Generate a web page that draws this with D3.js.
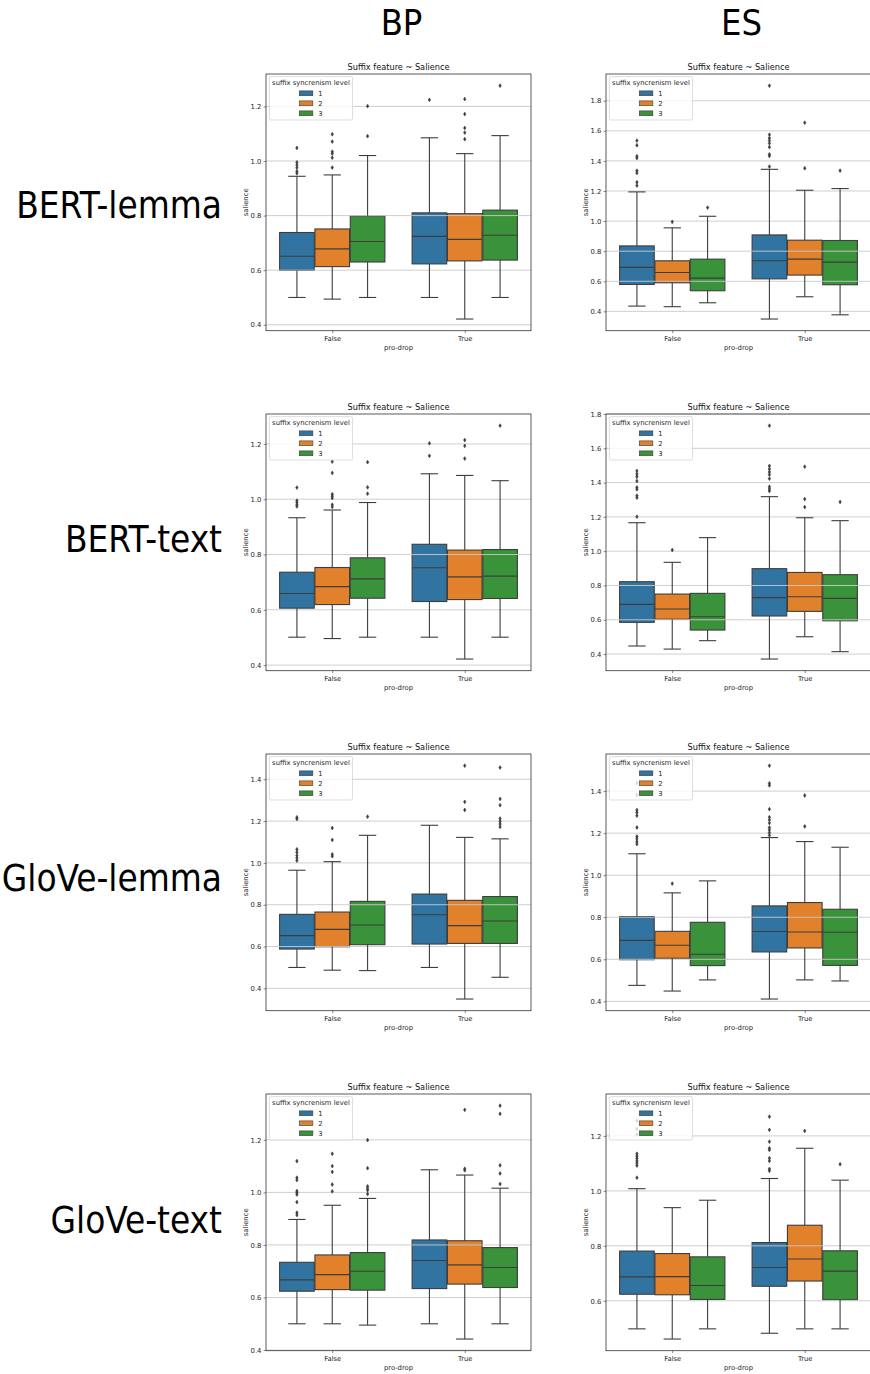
<!DOCTYPE html>
<html>
<head>
<meta charset="utf-8">
<script src="https://cdn.jsdelivr.net/npm/d3@7"></script>
<style>
  body { margin: 0; background: #fff; }
  svg { display: block; }
</style>
</head>
<body>
<div id="chart"></div>
<script>
// row / column headers of the composite figure
const rowNames = ['BERT-lemma', 'BERT-text', 'GloVe-lemma', 'GloVe-text']
const colNames = ['BP', 'ES']
const categories = ['False', 'True']
const levels = ['1', '2', '3']
const yTickStep = 0.2

// box stats: [whiskerLow, q1, median, q3, whiskerHigh]
// order: False-1, False-2, False-3, True-1, True-2, True-3
const bpBertLemma = [
  [0.500, 0.599, 0.651, 0.738, 0.944], [0.494, 0.613, 0.678, 0.751, 0.949], [0.500, 0.630, 0.705, 0.799, 1.020],
  [0.500, 0.623, 0.724, 0.810, 1.085], [0.421, 0.634, 0.713, 0.807, 1.027], [0.500, 0.637, 0.728, 0.820, 1.093]
]
const bpBertLemmaFliers = [
  [1.048, 0.995, 0.985, 0.975, 0.962, 0.955], [1.098, 1.071, 1.034, 1.027, 1.012, 0.976], [1.201, 1.091],
  [1.224], [1.227, 1.172, 1.121, 1.104, 1.080], [1.276]
]
const esBertLemma = [
  [0.435, 0.579, 0.692, 0.835, 1.194], [0.431, 0.590, 0.658, 0.736, 0.955], [0.457, 0.537, 0.621, 0.747, 1.032],
  [0.349, 0.616, 0.736, 0.908, 1.344], [0.497, 0.641, 0.747, 0.873, 1.205], [0.377, 0.577, 0.727, 0.871, 1.216]
]
const esBertLemmaFliers = [
  [1.535, 1.504, 1.431, 1.419, 1.335, 1.320, 1.258, 1.236], [0.995], [1.090],
  [1.900, 1.574, 1.552, 1.535, 1.517, 1.492, 1.444, 1.433, 1.362], [1.654, 1.351], [1.335]
]
const bpBertText = [
  [0.501, 0.606, 0.659, 0.736, 0.933], [0.496, 0.619, 0.684, 0.753, 0.961], [0.501, 0.642, 0.712, 0.788, 0.988],
  [0.501, 0.630, 0.752, 0.837, 1.092], [0.422, 0.637, 0.719, 0.816, 1.086], [0.501, 0.641, 0.722, 0.818, 1.067]
]
const bpBertTextFliers = [
  [1.042, 0.995, 0.988, 0.980, 0.974], [1.136, 1.095, 1.018, 1.011, 1.004, 0.980, 0.972], [1.134, 1.043, 1.020],
  [1.202, 1.157], [1.214, 1.193, 1.147], [1.266]
]
const esBertText = [
  [0.447, 0.585, 0.690, 0.822, 1.166], [0.429, 0.603, 0.663, 0.750, 0.935], [0.478, 0.540, 0.618, 0.754, 1.079],
  [0.371, 0.622, 0.729, 0.898, 1.318], [0.501, 0.649, 0.734, 0.876, 1.195], [0.414, 0.594, 0.725, 0.863, 1.178]
]
const esBertTextFliers = [
  [1.468, 1.450, 1.434, 1.409, 1.372, 1.361, 1.324, 1.312, 1.201], [1.007], [],
  [1.732, 1.497, 1.479, 1.462, 1.446, 1.423, 1.376, 1.363, 1.351], [1.493, 1.304, 1.257], [1.287]
]
const bpGloveLemma = [
  [0.500, 0.588, 0.652, 0.754, 0.965], [0.487, 0.599, 0.682, 0.765, 1.006], [0.485, 0.609, 0.703, 0.816, 1.132],
  [0.500, 0.612, 0.752, 0.851, 1.180], [0.349, 0.615, 0.700, 0.821, 1.122], [0.453, 0.615, 0.722, 0.839, 1.115]
]
const bpGloveLemmaFliers = [
  [1.218, 1.210, 1.065, 1.051, 1.036, 1.024, 1.011], [1.167, 1.110, 1.041, 1.032], [1.221],
  [], [1.465, 1.292, 1.253], [1.456, 1.306, 1.276, 1.212, 1.199, 1.186, 1.172]
]
const esGloveLemma = [
  [0.476, 0.598, 0.690, 0.803, 1.102], [0.449, 0.605, 0.667, 0.733, 0.916], [0.502, 0.570, 0.624, 0.776, 0.973],
  [0.411, 0.635, 0.732, 0.854, 1.179], [0.502, 0.654, 0.730, 0.870, 1.160], [0.497, 0.571, 0.729, 0.838, 1.133]
]
const esGloveLemmaFliers = [
  [1.438, 1.381, 1.310, 1.298, 1.283, 1.227, 1.184, 1.173, 1.159, 1.148], [0.960], [],
  [1.521, 1.437, 1.427, 1.314, 1.276, 1.263, 1.248, 1.227, 1.216, 1.203, 1.190], [1.379, 1.232], []
]
const bpGloveText = [
  [0.500, 0.624, 0.667, 0.734, 0.897], [0.500, 0.630, 0.687, 0.762, 0.951], [0.495, 0.628, 0.700, 0.771, 0.977],
  [0.500, 0.634, 0.741, 0.819, 1.086], [0.442, 0.651, 0.724, 0.816, 1.066], [0.500, 0.638, 0.714, 0.790, 1.016]
]
const bpGloveTextFliers = [
  [1.119, 1.056, 1.047, 1.005, 0.999, 0.992, 0.963, 0.923, 0.914], [1.147, 1.100, 1.078, 1.030, 1.004],
  [1.199, 1.092, 1.023, 1.015, 1.008, 0.994],
  [], [1.314, 1.090, 1.084], [1.330, 1.299, 1.103, 1.072, 1.032]
]
const esGloveText = [
  [0.498, 0.624, 0.687, 0.781, 1.008], [0.461, 0.622, 0.688, 0.772, 0.939], [0.498, 0.605, 0.656, 0.760, 0.966],
  [0.482, 0.653, 0.721, 0.812, 1.045], [0.498, 0.672, 0.752, 0.875, 1.155], [0.498, 0.604, 0.708, 0.782, 1.039]
]
const esGloveTextFliers = [
  [1.310, 1.255, 1.225, 1.205, 1.135, 1.126, 1.118, 1.109, 1.101, 1.092, 1.048], [], [],
  [1.270, 1.222, 1.179, 1.155, 1.149, 1.119, 1.109, 1.080, 1.073], [1.218], [1.097]
]

const panels = [
  [bpBertLemma, bpBertLemmaFliers, esBertLemma, esBertLemmaFliers],
  [bpBertText, bpBertTextFliers, esBertText, esBertTextFliers],
  [bpGloveLemma, bpGloveLemmaFliers, esGloveLemma, esGloveLemmaFliers],
  [bpGloveText, bpGloveTextFliers, esGloveText, esGloveTextFliers]
]

const hueColors = ['#3274a1', '#e1812c', '#3a923a']
const gray = '#3d3d3d'
const width = 870
const height = 1374
const colX = [266, 606]
const rowY = [74, 414, 754, 1094]
const rowLabelY = [218, 552, 891, 1233]
const panelW = 265
const panelH = 256.7
const smallFont = 6.8
const titleFont = 8.2
const mplFont = 'DejaVu Sans, sans-serif'
const headFont = '"DejaVu Sans Condensed", "DejaVu Sans", sans-serif'

const svg = d3.select('#chart')
  .append('svg')
  .attr('width', width)
  .attr('height', height)
  .style('background', '#fff')

// column headers
svg.selectAll('text.colhead')
  .data(colNames)
  .join('text')
  .classed('colhead', true)
  .attr('x', (d, i) => colX[i] + panelW / 2 + 3)
  .attr('y', 35)
  .attr('text-anchor', 'middle')
  .style('font-family', headFont)
  .style('font-stretch', 'condensed')
  .style('font-size', '36px')
  .text(d => d)

// row labels
svg.selectAll('text.rowhead')
  .data(rowNames)
  .join('text')
  .classed('rowhead', true)
  .attr('x', 222)
  .attr('y', (d, i) => rowLabelY[i])
  .attr('text-anchor', 'end')
  .style('font-family', headFont)
  .style('font-stretch', 'condensed')
  .style('font-size', '36.6px')
  .text(d => d)

function drawPanel(x0, y0, stats, fliers) {
  const g = svg.append('g')

  const all = stats.flat().concat(fliers.flat())
  const lo = d3.min(all)
  const hi = d3.max(all)
  const pad = (hi - lo) * 0.05

  const x = d3.scaleLinear()
    .domain([-0.5, categories.length - 0.5])
    .range([x0, x0 + panelW])
  const y = d3.scaleLinear()
    .domain([lo - pad, hi + pad])
    .range([y0 + panelH, y0])

  const groupW = 0.8
  const eachW = groupW / levels.length
  const boxW = eachW * 0.98
  const center = i => Math.floor(i / levels.length) + (i % levels.length - (levels.length - 1) / 2) * eachW

  const boxes = stats.map((s, i) => ({ s, i, f: fliers[i] }))

  // boxes (patches sit below the grid, like matplotlib)
  g.append('g')
    .selectAll('rect')
    .data(boxes)
    .join('rect')
    .attr('x', d => x(center(d.i) - boxW / 2))
    .attr('width', d => x(boxW) - x(0))
    .attr('y', d => y(d.s[3]))
    .attr('height', d => y(d.s[1]) - y(d.s[3]))
    .attr('fill', d => hueColors[d.i % levels.length])
    .attr('stroke', gray)
    .attr('stroke-width', 1.1)

  // grid
  const kLo = Math.ceil((lo - pad) / yTickStep - 1e-6)
  const kHi = Math.floor((hi + pad) / yTickStep + 1e-6)
  const ticks = d3.range(kLo, kHi + 1).map(k => k * yTickStep)

  g.append('g')
    .selectAll('line')
    .data(ticks)
    .join('line')
    .attr('x1', x0)
    .attr('x2', x0 + panelW)
    .attr('y1', d => y(d))
    .attr('y2', d => y(d))
    .attr('stroke', '#c9c9c9')
    .attr('stroke-width', 0.9)

  // whiskers, caps, medians
  const lines = g.append('g')
    .attr('stroke', gray)
    .attr('stroke-width', 1.1)
  boxes.forEach(d => {
    const cx = x(center(d.i))
    const capHalf = (x(boxW) - x(0)) / 4
    const halfW = (x(boxW) - x(0)) / 2
    lines.append('line').attr('x1', cx).attr('x2', cx).attr('y1', y(d.s[1])).attr('y2', y(d.s[0]))
    lines.append('line').attr('x1', cx).attr('x2', cx).attr('y1', y(d.s[3])).attr('y2', y(d.s[4]))
    lines.append('line').attr('x1', cx - capHalf).attr('x2', cx + capHalf).attr('y1', y(d.s[0])).attr('y2', y(d.s[0]))
    lines.append('line').attr('x1', cx - capHalf).attr('x2', cx + capHalf).attr('y1', y(d.s[4])).attr('y2', y(d.s[4]))
    lines.append('line').attr('x1', cx - halfW).attr('x2', cx + halfW).attr('y1', y(d.s[2])).attr('y2', y(d.s[2]))
  })

  // fliers: thin diamonds
  const diamond = 'M0,-1.9L1.2,0L0,1.9L-1.2,0Z'
  const pts = boxes.flatMap(d => d.f.map(v => ({ cx: x(center(d.i)), v })))
  g.append('g')
    .selectAll('path')
    .data(pts)
    .join('path')
    .attr('d', diamond)
    .attr('transform', d => `translate(${d.cx},${y(d.v)})`)
    .attr('fill', gray)
    .attr('stroke', gray)
    .attr('stroke-width', 0.6)

  // spines
  g.append('rect')
    .attr('x', x0)
    .attr('y', y0)
    .attr('width', panelW)
    .attr('height', panelH)
    .attr('fill', 'none')
    .attr('stroke', '#333')
    .attr('stroke-width', 0.8)

  // y axis
  const yAxis = g.append('g')
    .attr('transform', `translate(${x0},0)`)
    .call(d3.axisLeft(y).tickValues(ticks).tickFormat(d3.format('.1f')).tickSize(2.4).tickPadding(2.2))
  yAxis.select('.domain').remove()
  yAxis.selectAll('line').attr('stroke', '#333').attr('stroke-width', 0.6)
  yAxis.selectAll('text')
    .style('font-family', mplFont)
    .style('font-size', smallFont + 'px')
    .attr('fill', '#262626')

  // x axis
  const xAxis = g.append('g')
    .attr('transform', `translate(0,${y0 + panelH})`)
    .call(d3.axisBottom(x).tickValues(d3.range(categories.length)).tickFormat(i => categories[i]).tickSize(2.4).tickPadding(2.6))
  xAxis.select('.domain').remove()
  xAxis.selectAll('line').attr('stroke', '#333').attr('stroke-width', 0.6)
  xAxis.selectAll('text')
    .style('font-family', mplFont)
    .style('font-size', smallFont + 'px')
    .attr('fill', '#262626')

  // labels and title
  g.append('text')
    .attr('x', x0 + panelW / 2)
    .attr('y', y0 + panelH + 19)
    .attr('text-anchor', 'middle')
    .style('font-family', mplFont)
    .style('font-size', smallFont + 'px')
    .attr('fill', '#262626')
    .text('pro-drop')

  g.append('text')
    .attr('transform', `translate(${x0 - 18.5},${y0 + panelH / 2}) rotate(-90)`)
    .attr('text-anchor', 'middle')
    .style('font-family', mplFont)
    .style('font-size', smallFont + 'px')
    .attr('fill', '#262626')
    .text('salience')

  g.append('text')
    .attr('x', x0 + panelW / 2)
    .attr('y', y0 - 4.3)
    .attr('text-anchor', 'middle')
    .style('font-family', mplFont)
    .style('font-size', titleFont + 'px')
    .attr('fill', '#111')
    .text('Suffix feature ~ Salience')

  // legend
  const leg = g.append('g').attr('transform', `translate(${x0 + 3.4},${y0 + 2.6})`)
  const frame = leg.append('rect')
    .attr('rx', 1.5)
    .attr('fill', '#fff')
    .attr('fill-opacity', 0.8)
    .attr('stroke', '#d0d0d0')
    .attr('stroke-width', 0.7)
  const title = leg.append('text')
    .attr('y', 8.6)
    .attr('text-anchor', 'middle')
    .style('font-family', mplFont)
    .style('font-size', smallFont + 'px')
    .attr('fill', '#262626')
    .text('suffix syncrenism level')
  const tw = title.node().getComputedTextLength()
  const legW = tw + 5.4
  frame.attr('width', legW).attr('height', 43.4)
  title.attr('x', legW / 2)

  const entry = leg.selectAll('g.entry')
    .data(levels)
    .join('g')
    .classed('entry', true)
    .attr('transform', (d, i) => `translate(${legW / 2 - 11.7},${16.7 + i * 10})`)
  entry.append('rect')
    .attr('width', 13.6)
    .attr('height', 4.8)
    .attr('y', -2.4)
    .attr('fill', (d, i) => hueColors[i])
    .attr('stroke', gray)
    .attr('stroke-width', 0.6)
  entry.append('text')
    .attr('x', 19)
    .attr('y', 2.4)
    .style('font-family', mplFont)
    .style('font-size', smallFont + 'px')
    .attr('fill', '#262626')
    .text(d => d)
}

panels.forEach((p, r) => {
  drawPanel(colX[0], rowY[r], p[0], p[1])
  drawPanel(colX[1], rowY[r], p[2], p[3])
})
</script>
</body>
</html>
